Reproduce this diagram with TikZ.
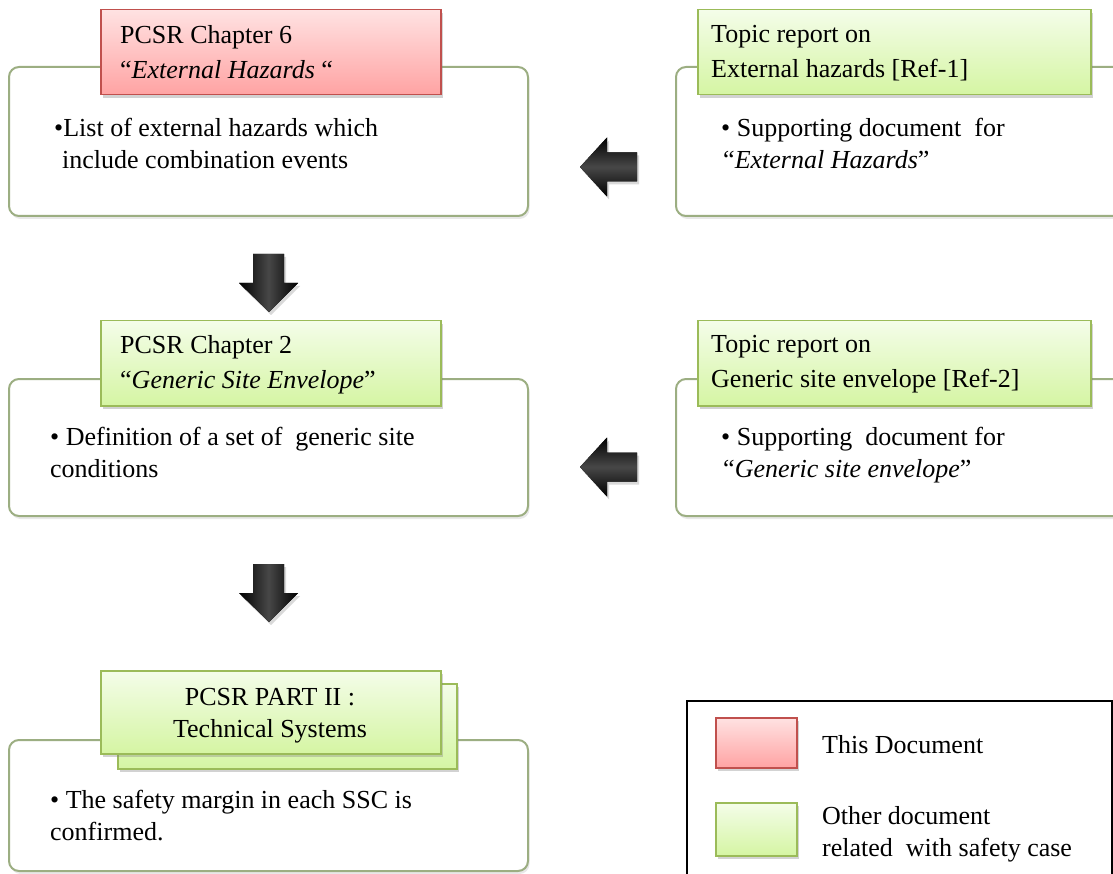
\documentclass[tikz,border=0pt]{standalone}
\usepackage{fontspec}
\setmainfont{LiberationSerif}[Extension=.ttf, UprightFont=*-Regular, ItalicFont=*-Italic, BoldFont=*-Bold, BoldItalicFont=*-BoldItalic]
\usetikzlibrary{shadows}
\definecolor{boxline}{HTML}{9CAE82}
\definecolor{redline}{HTML}{C0504D}
\definecolor{redtop}{HTML}{FFE2E2}
\definecolor{redbot}{HTML}{FFA3A3}
\definecolor{grnline}{HTML}{9BBB59}
\definecolor{grntop}{HTML}{F4FDE9}
\definecolor{grnbot}{HTML}{D5F5A3}
\tikzset{
  outerbox/.style={draw=boxline, line width=2pt, rounded corners=10pt, fill=white,
    inner sep=0pt, anchor=north west,
    drop shadow={shadow xshift=1.5pt, shadow yshift=-3pt, opacity=0.18}},
  headbox/.style={line width=1.5pt, inner sep=0pt, anchor=north west,
    drop shadow={shadow xshift=2pt, shadow yshift=-3pt, opacity=0.35}},
  redhead/.style={headbox, draw=redline, top color=redtop, bottom color=redbot},
  grnhead/.style={headbox, draw=grnline, top color=grntop, bottom color=grnbot},
  txt/.style={inner sep=0pt, align=left, anchor=north west, font=\fontsize{26}{32}\selectfont},
  headtxt/.style={txt, font=\fontsize{26}{35}\selectfont},
  downarrow/.style={left color=black, right color=black, middle color=black!72,
    drop shadow={shadow xshift=2pt, shadow yshift=-3pt, opacity=0.3}},
  leftarrow/.style={top color=black, bottom color=black, middle color=black!72,
    drop shadow={shadow xshift=2pt, shadow yshift=-3pt, opacity=0.3}},
  legendframe/.style={draw=black, line width=1.5pt, inner sep=0pt, anchor=north west}
}
\begin{document}
\begin{tikzpicture}[x=1pt,y=-1pt]
\useasboundingbox (0,0) rectangle (1113,874);
\clip (0,0) rectangle (1113,874);

% ---- row 1
\node[outerbox, minimum width=519pt, minimum height=149pt] (box1) at (8,66) {};
\node[redhead, minimum width=340pt, minimum height=85pt] (head1) at (100,9) {};
\node[headtxt] (head1t) at (120,25) {PCSR Chapter 6\\“\textit{External Hazards} “};
\node[txt] (box1t) at (54,118) {•List of external hazards which\\\hspace*{8pt}include combination events};

\node[outerbox, minimum width=460pt, minimum height=149pt] (rbox1) at (675,66) {};
\node[grnhead, minimum width=393pt, minimum height=85pt] (rhead1) at (697,9) {};
\node[headtxt] (rhead1t) at (711,25) {Topic report on\\External hazards [Ref-1]};
\node[txt] (rbox1t) at (721,118) {• Supporting document\ \ for\\\hspace*{2pt}“\textit{External Hazards}”};

% ---- row 2
\node[outerbox, minimum width=519pt, minimum height=137pt] (box2) at (8,378) {};
\node[grnhead, minimum width=340pt, minimum height=85pt] (head2) at (100,320) {};
\node[headtxt] (head2t) at (120,335) {PCSR Chapter 2\\“\textit{Generic Site Envelope}”};
\node[txt] (box2t) at (50,427) {• Definition of a set of\ \ generic site\\conditions};

\node[outerbox, minimum width=460pt, minimum height=137pt] (rbox2) at (675,378) {};
\node[grnhead, minimum width=393pt, minimum height=85pt] (rhead2) at (697,320) {};
\node[headtxt] (rhead2t) at (711,335) {Topic report on\\Generic site envelope [Ref-2]};
\node[txt] (rbox2t) at (721,427) {• Supporting\ \ document for\\\hspace*{2pt}“\textit{Generic site envelope}”};

% ---- row 3
\node[outerbox, minimum width=519pt, minimum height=131pt] (box3) at (8,739) {};
\node[grnhead, minimum width=339pt, minimum height=85pt] (head3b) at (117,683) {};
\node[grnhead, minimum width=340pt, minimum height=83pt] (head3) at (100,670) {};
\node[txt, align=center, anchor=north, font=\fontsize{26}{32}\selectfont] (head3t) at (270,688) {PCSR PART II :\\Technical Systems};
\node[txt] (box3t) at (50,790) {• The safety margin in each SSC is\\confirmed.};

% ---- block arrows
\fill[downarrow] (253,254) -- (284,254) -- (284,283) -- (298,283) -- (269,312) -- (239,283) -- (253,283) -- cycle;
\fill[downarrow] (253,564) -- (284,564) -- (284,593) -- (298,593) -- (269,622) -- (239,593) -- (253,593) -- cycle;
\fill[leftarrow] (580,167) -- (607,137.5) -- (607,152.5) -- (637,152.5) -- (637,181.5) -- (607,181.5) -- (607,196.5) -- cycle;
\fill[leftarrow] (580,467) -- (607,437.5) -- (607,452.5) -- (637,452.5) -- (637,481.5) -- (607,481.5) -- (607,496.5) -- cycle;

% ---- legend
\node[legendframe, minimum width=425pt, minimum height=185pt] (legend) at (686,700) {};
\node[redhead, minimum width=81pt, minimum height=50pt] (legred) at (715,717) {};
\node[grnhead, minimum width=81pt, minimum height=53pt] (leggrn) at (715,802) {};
\node[txt] (legredt) at (822,735) {This Document};
\node[txt] (leggrnt) at (822,806) {Other document\\related\ \ with safety case};
\end{tikzpicture}
\end{document}
